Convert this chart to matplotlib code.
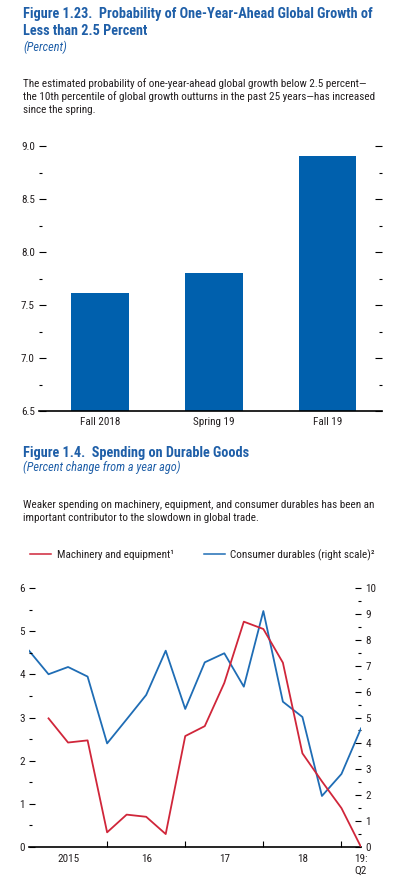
import matplotlib
matplotlib.use('Agg')
import matplotlib.pyplot as plt
from matplotlib.lines import Line2D
from matplotlib.ticker import MultipleLocator, FixedLocator, FixedFormatter, NullFormatter, FormatStrFormatter

# condensed face, falls back to DejaVu Sans Condensed
plt.rcParams['font.family'] = ['Roboto Condensed', 'DejaVu Sans']
plt.rcParams['font.stretch'] = 'condensed'

# Figure 1.23 data
vintages = ['Fall 2018', 'Spring 19', 'Fall 19']
probability = [7.61, 7.80, 8.91]

# Figure 1.4 data, quarterly 2015:Q1 .. 2019:Q2
quarters = list(range(18))
machinery = [None, 2.98, 2.42, 2.47, 0.34, 0.75, 0.70, 0.30, 2.57, 2.80,
             3.80, 5.22, 5.05, 4.27, 2.17, 1.52, 0.90, 0.00]
consumer = [7.58, 6.67, 6.95, 6.58, 4.00, 4.93, 5.87, 7.58, 5.33, 7.13,
            7.48, 6.19, 9.11, 5.61, 5.02, 1.97, 2.82, 4.58]
year_ticks = [4, 8, 12, 16]
year_label_pos = [2, 6, 10, 14, 17]
year_labels = ['2015', '16', '17', '18', '19:\nQ2']

W, H = 397, 882
TITLE = '#1f5fa8'
TEXT = '#231f20'
BAR = '#0060ad'
RED = '#d0263a'
BLUE = '#1f6db5'
FS = 8.0

fig = plt.figure(figsize=(W / 100, H / 100), dpi=100)


def px_axes(left, top, right, bottom):
    return fig.add_axes([left / W, 1 - bottom / H, (right - left) / W, (bottom - top) / H])


def ftext(x, y, s, **kw):
    fig.text(x / W, 1 - y / H, s, va='center', ha='left', **kw)


# ---- Figure 1.23 text
ftext(23, 14, 'Figure 1.23.  Probability of One-Year-Ahead Global Growth of',
      fontsize=10.3, fontweight='bold', color=TITLE)
ftext(23, 31, 'Less than 2.5 Percent', fontsize=10.3, fontweight='bold', color=TITLE)
ftext(23, 47, '(Percent)', fontsize=8.8, style='italic', color=TITLE)
desc1 = ['The estimated probability of one-year-ahead global growth below 2.5 percent\u2014',
         'the 10th percentile of global growth outturns in the past 25 years\u2014has increased',
         'since the spring.']
for i, line in enumerate(desc1):
    ftext(23, 84 + 13 * i, line, fontsize=FS, color=TEXT)

# ---- bar chart
ax1 = px_axes(39, 146, 382, 411)
ax1.bar(range(len(vintages)), probability, width=0.51, color=BAR, zorder=2)
ax1.set_ylim(6.5, 9.0)
ax1.set_xlim(-0.54, 2.48)
ax1.set_xticks(range(len(vintages)))
ax1.set_xticklabels(vintages, fontsize=FS, color=TEXT)
ax1.yaxis.set_major_locator(MultipleLocator(0.5))
ax1.yaxis.set_minor_locator(MultipleLocator(0.25))
ax1.yaxis.set_major_formatter(FormatStrFormatter('%.1f'))
for s in ['top', 'left', 'right']:
    ax1.spines[s].set_visible(False)
ax1.spines['bottom'].set_linewidth(1.2)
ax1.tick_params(axis='x', length=0, pad=4)
ax1.tick_params(axis='y', which='major', direction='in', length=5, width=0.8,
                left=True, right=True, labelsize=FS, labelcolor=TEXT, pad=3)
ax1.tick_params(axis='y', which='minor', direction='in', length=2.5, width=0.8,
                left=True, right=True)

# ---- Figure 1.4 text
ftext(23, 453, 'Figure 1.4.  Spending on Durable Goods',
      fontsize=10.3, fontweight='bold', color=TITLE)
ftext(23, 467, '(Percent change from a year ago)', fontsize=8.8, style='italic', color=TITLE)
desc2 = ['Weaker spending on machinery, equipment, and consumer durables has been an',
         'important contributor to the slowdown in global trade.']
for i, line in enumerate(desc2):
    ftext(23, 505 + 13 * i, line, fontsize=FS, color=TEXT)

# ---- line chart
ax2 = px_axes(29, 588, 361, 847)
ax3 = ax2.twinx()
x_m = [q for q, v in zip(quarters, machinery) if v is not None]
y_m = [v for v in machinery if v is not None]
ax2.plot(x_m, y_m, color=RED, lw=1.3, zorder=3)
ax3.plot(quarters, consumer, color=BLUE, lw=1.3, zorder=2)
ax2.set_zorder(ax3.get_zorder() + 1)
ax2.patch.set_visible(False)

ax2.set_xlim(0, 17)
ax2.set_ylim(0, 6)
ax3.set_ylim(0, 10)
for a in (ax2, ax3):
    for s in ['top', 'left', 'right', 'bottom']:
        a.spines[s].set_visible(False)
ax2.spines['bottom'].set_visible(True)
ax2.spines['bottom'].set_linewidth(1.2)

ax2.xaxis.set_major_locator(FixedLocator(year_ticks))
ax2.xaxis.set_minor_locator(FixedLocator(year_label_pos))
ax2.xaxis.set_major_formatter(NullFormatter())
ax2.xaxis.set_minor_formatter(FixedFormatter(year_labels))
ax2.tick_params(axis='x', which='major', direction='in', length=4, width=0.8)
ax2.tick_params(axis='x', which='minor', length=0, pad=5, labelsize=FS, labelcolor=TEXT)

for a in (ax2, ax3):
    a.yaxis.set_major_locator(MultipleLocator(1))
    a.yaxis.set_minor_locator(MultipleLocator(0.5))
    a.tick_params(axis='y', which='major', direction='in', length=4.5, width=0.8,
                  labelsize=FS, labelcolor=TEXT, pad=3)
    a.tick_params(axis='y', which='minor', direction='in', length=2, width=0.8)

handles = [Line2D([], [], color=RED, lw=1.1), Line2D([], [], color=BLUE, lw=1.1)]
fig.legend(handles, ['Machinery and equipment\u00b9', 'Consumer durables (right scale)\u00b2'],
           loc='center left', bbox_to_anchor=(30 / W, 1 - 555 / H), ncol=2,
           frameon=False, fontsize=FS, handlelength=1.9, handletextpad=0.5,
           columnspacing=2.7, borderpad=0, borderaxespad=0, labelcolor=TEXT)

fig.savefig('out.png', dpi=100)
